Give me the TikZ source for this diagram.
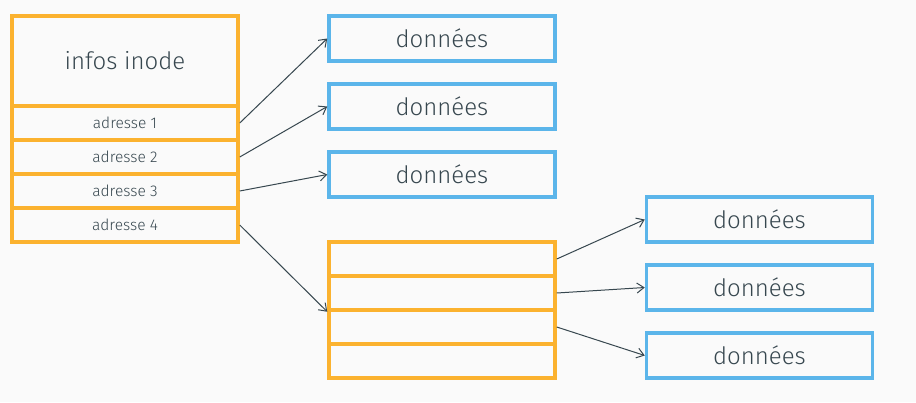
\documentclass[tikz,border=0pt]{standalone}
\usepackage{fontspec}
\setmainfont{Fira Sans Light}
\usepackage{xcolor}
\usetikzlibrary{positioning,arrows.meta}
\definecolor{bloc}{HTML}{FBB22F}
\definecolor{data}{HTML}{5BB5EA}
\definecolor{ink}{HTML}{37474F}
\definecolor{fond}{HTML}{FAFAFA}
\tikzset{
  cell/.style={draw=bloc, line width=3.5pt, minimum width=226pt, minimum height=34pt,
    inner sep=0pt, text=ink, font=\fontsize{15.5}{18}\selectfont},
  databox/.style={draw=data, line width=3.5pt, minimum width=226pt, minimum height=45pt,
    inner sep=0pt, text=ink, font=\fontsize{24}{28}\selectfont},
  ptr/.style={ink, line width=1pt, -{Straight Barb[length=7pt,width=10pt]}}
}

\begin{document}
\begin{tikzpicture}[x=1pt, y=-1pt]
\fill[fond] (0,0) rectangle (916,402);
\useasboundingbox (0,0) rectangle (916,402);
% inode
\node[cell, minimum height=90pt, font=\fontsize{24}{28}\selectfont] (inode) at (125,61) {infos inode};
\node[cell] (adr1) at (125,123) {adresse 1};
\node[cell] (adr2) at (125,157) {adresse 2};
\node[cell] (adr3) at (125,191) {adresse 3};
\node[cell] (adr4) at (125,225) {adresse 4};
% blocs de donnees directs
\node[databox] (data1) at (442,38.5) {données};
\node[databox] (data2) at (442,106.5) {données};
\node[databox] (data3) at (442,174.5) {données};
% bloc d'indirection
\node[cell] (blk1) at (442,259) {};
\node[cell] (blk2) at (442,293) {};
\node[cell] (blk3) at (442,327) {};
\node[cell] (blk4) at (442,361) {};
% blocs de donnees indirects
\node[databox] (ind1) at (759.5,219.5) {données};
\node[databox] (ind2) at (759.5,287.5) {données};
\node[databox] (ind3) at (759.5,355.5) {données};
% pointeurs
\draw[ptr] (adr1.east) -- (data1.west);
\draw[ptr] (adr2.east) -- (data2.west);
\draw[ptr] (adr3.east) -- (data3.west);
\draw[ptr] (adr4.east) -- (blk2.south west);
\draw[ptr] (blk1.east) -- (ind1.west);
\draw[ptr] (blk2.east) -- (ind2.west);
\draw[ptr] (blk3.east) -- (ind3.west);
\end{tikzpicture}
\end{document}
